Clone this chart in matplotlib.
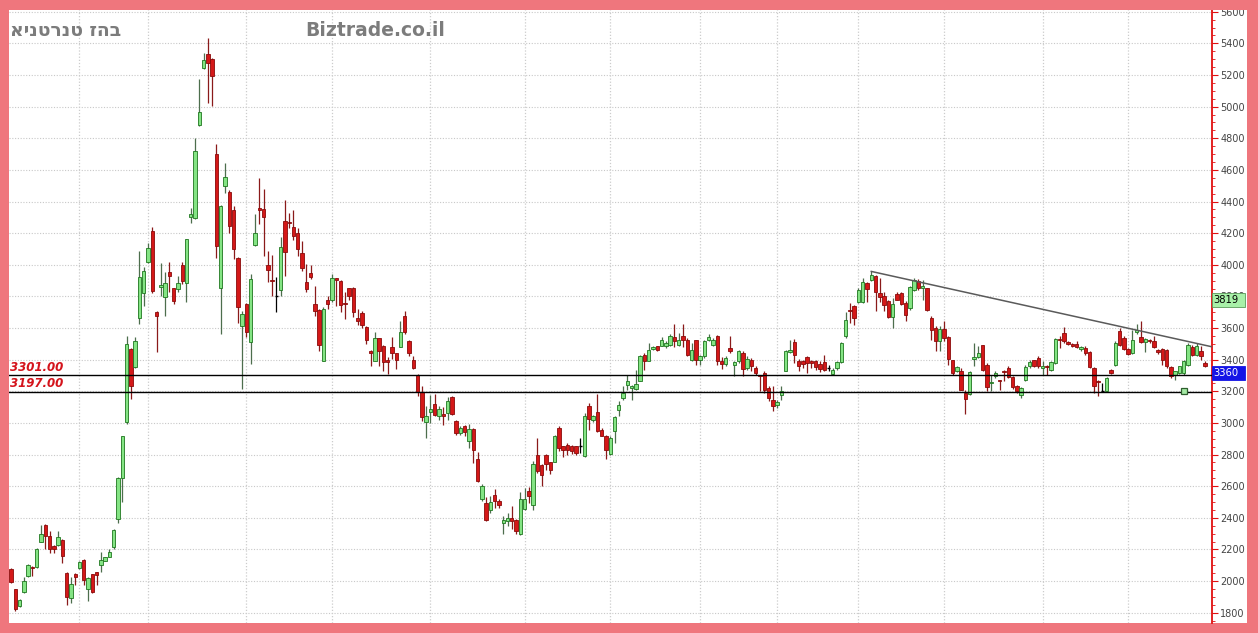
import matplotlib
matplotlib.use("Agg")
import matplotlib.pyplot as plt
from matplotlib.patches import Rectangle
from matplotlib.ticker import MultipleLocator

# daily OHLC
opens = [2078, 1947, 1842, 1931, 2032, 2090, 2088, 2250, 2356, 2284,
         2221, 2230, 2261, 2051, 1893, 2046, 2084, 2135, 1947, 2042,
         2057, 2099, 2130, 2154, 2215, 2394, 2651, 3004, 3468, 3352,
         3663, 3821, 4015, 4211, 3699, 3860, 3794, 3952, 3851, 3846,
         3998, 3884, 4305, 4293, 4882, 5246, 5330, 5299, 4699, 3851,
         4495, 4463, 4347, 4046, 3611, 3752, 3510, 4124, 4358, 4352,
         4000, 3903, 3800, 3842, 4278, 4270, 4242, 4200, 4074, 3888,
         3945, 3752, 3714, 3394, 3779, 3779, 3914, 3899, 3760, 3851,
         3855, 3663, 3695, 3604, 3453, 3394, 3537, 3489, 3394, 3482,
         3440, 3482, 3678, 3518, 3400, 3305, 3198, 3004, 3067, 3122,
         3042, 3057, 3063, 3164, 3011, 2937, 2979, 2884, 2962, 2775,
         2520, 2491, 2447, 2547, 2505, 2369, 2378, 2396, 2385, 2295,
         2453, 2567, 2479, 2796, 2733, 2800, 2752, 2754, 2968, 2853,
         2863, 2853, 2853, 2857, 2790, 3105, 3017, 3070, 2954, 2920,
         2806, 2947, 3084, 3158, 3242, 3221, 3217, 3263, 3432, 3393,
         3467, 3484, 3488, 3484, 3495, 3543, 3495, 3547, 3526, 3400,
         3522, 3396, 3421, 3526, 3495, 3552, 3390, 3375, 3474, 3368,
         3389, 3442, 3347, 3396, 3347, 3300, 3316, 3221, 3147, 3116,
         3179, 3330, 3446, 3509, 3389, 3389, 3417, 3389, 3389, 3375,
         3383, 3348, 3312, 3347, 3383, 3552, 3716, 3741, 3762, 3762,
         3884, 3901, 3931, 3821, 3804, 3768, 3669, 3817, 3821, 3758,
         3726, 3842, 3895, 3853, 3853, 3663, 3600, 3516, 3594, 3543,
         3396, 3326, 3326, 3189, 3185, 3404, 3419, 3495, 3368, 3250,
         3295, 3274, 3330, 3347, 3291, 3232, 3179, 3270, 3358, 3396,
         3410, 3347, 3362, 3333, 3379, 3530, 3568, 3512, 3501, 3501,
         3467, 3474, 3446, 3347, 3267, 3200, 3200, 3333, 3368, 3579,
         3537, 3467, 3442, 3573, 3543, 3512, 3526, 3516, 3463, 3467,
         3463, 3354, 3305, 3316, 3316, 3368, 3480, 3432, 3453, 3379]

closes = [1994, 1825, 1882, 2000, 2099, 2080, 2204, 2299, 2284, 2204,
          2204, 2276, 2156, 1899, 1979, 2025, 2120, 2004, 2021, 1931,
          2040, 2135, 2150, 2187, 2324, 2651, 2916, 3499, 3236, 3520,
          3920, 3958, 4103, 3836, 3678, 3870, 3884, 3927, 3773, 3884,
          3899, 4162, 4320, 4720, 4966, 5295, 5278, 5194, 4116, 4369,
          4558, 4246, 4099, 3731, 3689, 3573, 3910, 4204, 4345, 4305,
          3968, 3895, 3800, 4114, 4082, 4262, 4183, 4099, 3977, 3846,
          3920, 3710, 3493, 3720, 3752, 3914, 3905, 3745, 3750, 3800,
          3699, 3646, 3619, 3526, 3440, 3537, 3457, 3383, 3387, 3440,
          3400, 3573, 3573, 3440, 3347, 3198, 3036, 3046, 3088, 3053,
          3088, 3042, 3137, 3059, 2937, 2968, 2941, 2962, 2832, 2632,
          2600, 2385, 2501, 2505, 2478, 2389, 2400, 2380, 2316, 2521,
          2522, 2535, 2743, 2695, 2670, 2743, 2701, 2916, 2842, 2827,
          2832, 2821, 2810, 2857, 3046, 3027, 3042, 2947, 2920, 2827,
          2905, 3038, 3116, 3190, 3263, 3232, 3248, 3421, 3389, 3463,
          3480, 3459, 3522, 3505, 3547, 3516, 3522, 3522, 3432, 3463,
          3400, 3421, 3516, 3543, 3522, 3389, 3370, 3411, 3453, 3383,
          3453, 3341, 3404, 3358, 3316, 3295, 3210, 3158, 3105, 3130,
          3200, 3453, 3463, 3432, 3358, 3375, 3379, 3379, 3354, 3340,
          3337, 3348, 3337, 3383, 3505, 3648, 3705, 3663, 3838, 3888,
          3846, 3937, 3825, 3796, 3747, 3669, 3754, 3779, 3754, 3684,
          3859, 3901, 3853, 3863, 3716, 3590, 3516, 3594, 3537, 3404,
          3316, 3354, 3211, 3152, 3322, 3417, 3442, 3337, 3225, 3256,
          3316, 3263, 3322, 3291, 3225, 3200, 3221, 3354, 3383, 3362,
          3358, 3358, 3354, 3383, 3530, 3522, 3516, 3499, 3484, 3480,
          3480, 3442, 3354, 3236, 3259, 3200, 3284, 3316, 3505, 3495,
          3467, 3438, 3526, 3590, 3509, 3530, 3516, 3480, 3446, 3400,
          3362, 3299, 3326, 3358, 3389, 3495, 3432, 3488, 3421, 3358]

highs = [2085, 1950, 1888, 2025, 2110, 2095, 2210, 2356, 2360, 2314,
         2230, 2316, 2265, 2055, 2025, 2050, 2130, 2140, 2025, 2046,
         2060, 2183, 2155, 2204, 2330, 2655, 2920, 3552, 3475, 3541,
         4084, 3983, 4137, 4236, 3705, 4010, 3952, 4019, 3855, 3930,
         4019, 4165, 4362, 4800, 5173, 5341, 5436, 5305, 4762, 4375,
         4646, 4470, 4372, 4050, 3710, 3760, 3941, 4320, 4550, 4478,
         4088, 4061, 3920, 4173, 4410, 4330, 4347, 4230, 4152, 4004,
         3998, 3867, 3720, 3730, 3804, 3941, 3918, 3905, 3825, 3855,
         3860, 3720, 3710, 3610, 3460, 3573, 3540, 3495, 3419, 3541,
         3445, 3646, 3710, 3525, 3425, 3310, 3236, 3105, 3179, 3183,
         3105, 3099, 3164, 3168, 3017, 2983, 2990, 2996, 2966, 2815,
         2612, 2533, 2537, 2583, 2516, 2410, 2431, 2474, 2390, 2563,
         2590, 2598, 2757, 2905, 2740, 2805, 2756, 2926, 2979, 2856,
         2874, 2863, 2856, 2905, 3063, 3126, 3053, 3185, 2968, 2925,
         2916, 3046, 3137, 3236, 3305, 3242, 3337, 3432, 3442, 3505,
         3484, 3488, 3543, 3516, 3564, 3627, 3568, 3627, 3537, 3505,
         3526, 3432, 3526, 3564, 3537, 3558, 3420, 3421, 3547, 3389,
         3463, 3453, 3421, 3411, 3358, 3305, 3326, 3236, 3232, 3147,
         3232, 3463, 3526, 3530, 3404, 3400, 3421, 3400, 3400, 3390,
         3432, 3368, 3347, 3389, 3509, 3699, 3758, 3747, 3853, 3916,
         3888, 3958, 3937, 3916, 3830, 3779, 3789, 3830, 3825, 3768,
         3863, 3916, 3910, 3905, 3853, 3674, 3610, 3610, 3642, 3547,
         3400, 3358, 3347, 3210, 3330, 3505, 3488, 3495, 3379, 3300,
         3326, 3274, 3337, 3358, 3295, 3242, 3227, 3368, 3396, 3400,
         3421, 3389, 3368, 3389, 3537, 3551, 3606, 3516, 3505, 3516,
         3484, 3484, 3453, 3354, 3270, 3250, 3288, 3341, 3516, 3600,
         3547, 3474, 3590, 3627, 3642, 3537, 3530, 3547, 3467, 3474,
         3467, 3358, 3326, 3362, 3400, 3505, 3495, 3505, 3484, 3389]

lows = [1985, 1810, 1835, 1925, 2025, 2030, 2085, 2245, 2204, 2177,
        2177, 2225, 2114, 1851, 1860, 1973, 2078, 1973, 1872, 1925,
        1978, 2057, 2125, 2150, 2204, 2369, 2500, 2995, 3152, 3345,
        3626, 3737, 4010, 3821, 3447, 3800, 3674, 3830, 3752, 3825,
        3878, 3762, 4267, 4288, 4878, 5236, 5025, 5004, 4046, 3562,
        4457, 4204, 4036, 3632, 3215, 3541, 3373, 4118, 4257, 4053,
        3888, 3800, 3703, 3804, 3930, 4230, 4158, 4053, 3962, 3825,
        3910, 3678, 3457, 3390, 3720, 3766, 3741, 3699, 3657, 3780,
        3667, 3619, 3600, 3499, 3362, 3390, 3362, 3331, 3310, 3404,
        3341, 3478, 3562, 3425, 3341, 3173, 3015, 2905, 3000, 3042,
        3021, 2990, 3021, 3053, 2926, 2926, 2916, 2842, 2747, 2626,
        2505, 2380, 2430, 2465, 2465, 2295, 2347, 2330, 2295, 2290,
        2449, 2494, 2448, 2685, 2600, 2705, 2675, 2750, 2821, 2785,
        2800, 2806, 2800, 2810, 2785, 2958, 3005, 2940, 2916, 2772,
        2800, 2874, 3042, 3147, 3210, 3147, 3210, 3263, 3337, 3389,
        3459, 3455, 3484, 3474, 3484, 3480, 3484, 3480, 3421, 3389,
        3368, 3368, 3411, 3516, 3484, 3368, 3340, 3358, 3442, 3299,
        3379, 3299, 3337, 3330, 3305, 3200, 3189, 3137, 3074, 3095,
        3147, 3326, 3442, 3379, 3326, 3347, 3316, 3347, 3337, 3320,
        3326, 3326, 3305, 3337, 3379, 3537, 3632, 3621, 3758, 3758,
        3762, 3895, 3705, 3762, 3705, 3663, 3600, 3775, 3747, 3642,
        3716, 3832, 3842, 3775, 3705, 3526, 3453, 3453, 3516, 3368,
        3305, 3322, 3206, 3057, 3179, 3358, 3411, 3326, 3200, 3200,
        3284, 3210, 3263, 3284, 3215, 3189, 3158, 3263, 3347, 3354,
        3347, 3305, 3305, 3326, 3375, 3474, 3505, 3495, 3480, 3474,
        3453, 3432, 3347, 3190, 3173, 3194, 3194, 3312, 3362, 3484,
        3463, 3432, 3438, 3560, 3505, 3446, 3505, 3474, 3438, 3368,
        3347, 3284, 3270, 3312, 3305, 3358, 3421, 3421, 3400, 3354]

# first trading day of each month (candle index)
month_starts = [16, 32, 55, 75, 98, 120, 140, 161, 179, 198, 218, 241, 261]

# support levels and downward trend line
levels = [3301.00, 3197.00]
trend_x = [201, 281]
trend_y = [3958, 3479]
alert_idx, alert_price = 274, 3200

last_box = ("3819", 3819)
price_box = ("3360", 3360)

y_ticks = list(range(1800, 5601, 200))

W, H = 1258, 633
PINK = "#ef767d"

fig = plt.figure(figsize=(W / 100, H / 100), dpi=100, facecolor=PINK)
# white panel
fig.add_artist(Rectangle((9 / W, 1 - 623 / H), (1247 - 9) / W, (623 - 10) / H,
                         transform=fig.transFigure, facecolor="white",
                         edgecolor="none", zorder=-5))
ax = fig.add_axes([9 / W, 1 - 623 / H, (1212 - 9) / W, (623 - 10) / H])
ax.set_facecolor("white")

ax.set_xlim(-0.47, 280.6)
ax.set_ylim(1735, 5611)

# grid
for y in y_ticks:
    ax.axhline(y, color="#c8c8c8", lw=0.8, ls=(0, (1, 1.5)), zorder=0)
for m in month_starts:
    ax.axvline(m, color="#cccccc", lw=0.9, ls=(0, (1, 1.5)), zorder=0)

# candles
for i in range(len(opens)):
    o, h, l, c = opens[i], highs[i], lows[i], closes[i]
    if c > o:
        fill, edge, wick = "#84e484", "#1f761f", "#4d6e4d"
    elif c < o:
        fill, edge, wick = "#d41818", "#8a0a0a", "#8a1a1a"
    else:
        fill, edge, wick = "black", "black", "black"
    ax.vlines(i, l, h, color=wick, lw=0.9, zorder=2)
    if c == o:
        ax.hlines(c, i - 0.4, i + 0.4, color="black", lw=1.0, zorder=3)
    else:
        ax.bar(i, max(abs(c - o), 8), bottom=min(o, c), width=0.8,
               color=fill, edgecolor=edge, linewidth=0.6, zorder=3)

# horizontal levels
for lv in levels:
    ax.axhline(lv, color="black", lw=1.0, zorder=4)
    ax.text(0.0008, lv + 28, "%.2f" % lv, transform=ax.get_yaxis_transform(),
            color="#d4141c", fontsize=8.5, fontweight="bold", style="italic",
            ha="left", va="baseline", zorder=6)

ax.plot(trend_x, trend_y, color="#5a5a5a", lw=1.1, zorder=5)
ax.plot(alert_idx, alert_price, marker="s", ms=4.5, mfc="#a6eaa6",
        mec="#2e5e2e", mew=0.9, zorder=6)

# right axis
for s in ["left", "top", "bottom"]:
    ax.spines[s].set_visible(False)
ax.spines["right"].set_color("#e01010")
ax.spines["right"].set_linewidth(1.3)
ax.set_xticks([])
ax.yaxis.tick_right()
ax.set_yticks(y_ticks)
ax.yaxis.set_minor_locator(MultipleLocator(50))
ax.tick_params(axis="y", which="major", colors="#e01010", labelcolor="#444444",
               labelsize=7, length=4, pad=2, width=0.8)
ax.tick_params(axis="y", which="minor", colors="#e01010", length=2, width=0.6)

# value boxes on the axis (they sit over the tick labels, as in the source)
box_h = 88
for (txt, val), bg, fg, ec in [(last_box, "#a8f0a8", "black", "#5a9a5a"),
                               (price_box, "#1414e6", "white", "#1414e6")]:
    ax.add_patch(Rectangle((1.0, val - box_h), 33 / 1203, box_h,
                           transform=ax.get_yaxis_transform(), facecolor=bg,
                           edgecolor=ec, lw=0.6, clip_on=False, zorder=8))
    ax.text(1.0 + 1.5 / 1203, val - box_h / 2, txt, transform=ax.get_yaxis_transform(),
            color=fg, fontsize=7.2, ha="left", va="center", zorder=9)

# titles
fig.text(10 / W, 1 - 31 / H, "אינטרנט זהב", color="#7c7c7c", fontsize=13.5,
         fontweight="bold", family=["DejaVu Sans", "Noto Sans"], ha="left", va="center")
fig.text(305 / W, 1 - 31 / H, "Biztrade.co.il", color="#7c7c7c", fontsize=13.5,
         fontweight="bold", ha="left", va="center")

# pink border on top clips the uppermost label
fig.add_artist(Rectangle((0, 1 - 10 / H), 1, 10 / H, transform=fig.transFigure,
                         facecolor=PINK, edgecolor="none", zorder=20))

fig.savefig("out.png", dpi=100, facecolor=PINK)
